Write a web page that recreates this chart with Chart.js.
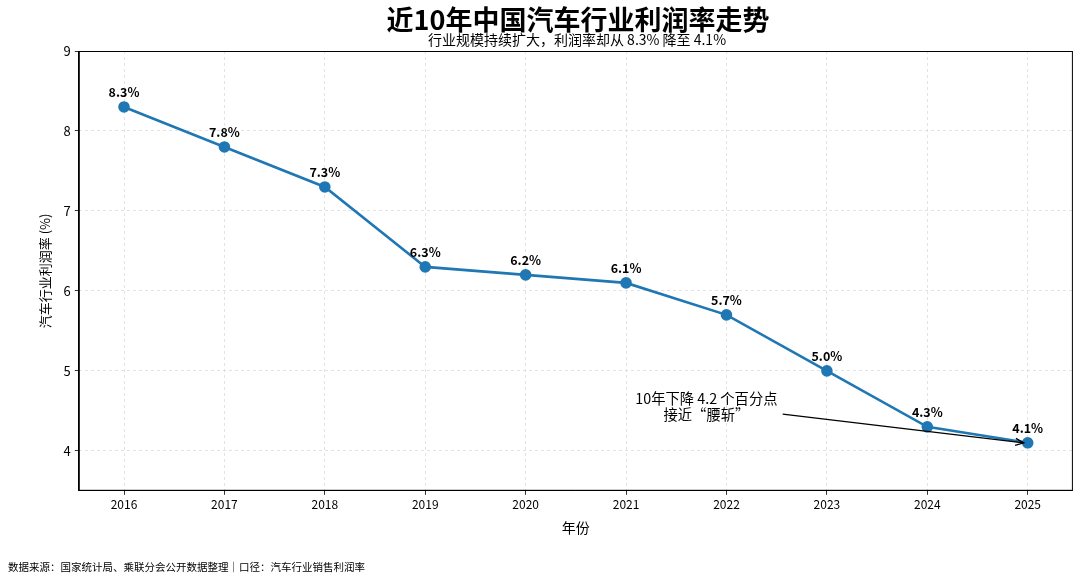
<!DOCTYPE html>
<html>
<head>
<meta charset="utf-8">
<script src="https://cdn.jsdelivr.net/npm/chart.js@4"></script>
<style>
  html, body { margin: 0; padding: 0; background: #fff; }
  #wrap { width: 1080px; height: 580px; position: relative; }
</style>
</head>
<body>
<div id="wrap"><canvas id="c" width="1080" height="580"></canvas></div>
<script>
// 数据
const years = [2016, 2017, 2018, 2019, 2020, 2021, 2022, 2023, 2024, 2025];
const profitRate = [8.3, 7.8, 7.3, 6.3, 6.2, 6.1, 5.7, 5.0, 4.3, 4.1];
const yTicks = [4, 5, 6, 7, 8, 9];

const FONT = '"Noto Sans CJK SC", "Noto Sans", sans-serif';

// 标题、数值标签、注释箭头、边框、脚注
const extras = {
  id: 'extras',
  afterDatasetsDraw(chart) {
    const { ctx, scales: { x, y }, chartArea } = chart;
    ctx.save();
    ctx.strokeStyle = '#000';
    ctx.lineWidth = 1;
    ctx.strokeRect(chartArea.left + 0.5, chartArea.top + 0.5,
      chartArea.right - chartArea.left - 1, chartArea.bottom - chartArea.top - 1);

    ctx.fillStyle = '#000';
    ctx.textAlign = 'center';
    ctx.textBaseline = 'middle';
    ctx.font = 'bold 27px ' + FONT;
    ctx.fillText('近10年中国汽车行业利润率走势', 578, 20);
    ctx.font = '14px ' + FONT;
    ctx.fillText('行业规模持续扩大，利润率却从 8.3% 降至 4.1%', 577, 40);

    ctx.textBaseline = 'alphabetic';
    ctx.font = 'bold 12.5px ' + FONT;
    years.forEach((yr, i) => {
      ctx.fillText(profitRate[i].toFixed(1) + '%', x.getPixelForValue(yr), y.getPixelForValue(profitRate[i]) - 10);
    });

    ctx.font = '14.3px ' + FONT;
    const tx = x.getPixelForValue(2021.8);
    ctx.fillText('10年下降 4.2 个百分点', tx, y.getPixelForValue(4.59));
    ctx.fillText('接近“腰斩”', tx, y.getPixelForValue(4.38));

    const x0 = x.getPixelForValue(2022.56), y0 = y.getPixelForValue(4.46);
    const x1 = x.getPixelForValue(2025) - 4, y1 = y.getPixelForValue(4.1);
    ctx.lineWidth = 1.3;
    ctx.beginPath();
    ctx.moveTo(x0, y0);
    ctx.lineTo(x1, y1);
    ctx.stroke();
    const ang = Math.atan2(y1 - y0, x1 - x0);
    ctx.beginPath();
    ctx.moveTo(x1 - 9 * Math.cos(ang - 0.4), y1 - 9 * Math.sin(ang - 0.4));
    ctx.lineTo(x1, y1);
    ctx.lineTo(x1 - 9 * Math.cos(ang + 0.4), y1 - 9 * Math.sin(ang + 0.4));
    ctx.stroke();

    ctx.font = '10.5px ' + FONT;
    ctx.textAlign = 'left';
    ctx.fillText('数据来源：国家统计局、乘联分会公开数据整理｜口径：汽车行业销售利润率', 8, 571);
    ctx.restore();
  }
};

new Chart(document.getElementById('c').getContext('2d'), {
  type: 'line',
  data: {
    datasets: [{
      data: years.map((yr, i) => ({ x: yr, y: profitRate[i] })),
      borderColor: '#1f77b4',
      backgroundColor: '#1f77b4',
      borderWidth: 2.6,
      pointRadius: 4.5,
      pointHoverRadius: 4.5,
      tension: 0
    }]
  },
  options: {
    responsive: false,
    animation: false,
    layout: { padding: { left: 33, right: 7, top: 51, bottom: 40 } },
    plugins: {
      legend: { display: false },
      tooltip: { enabled: false }
    },
    scales: {
      x: {
        type: 'linear',
        min: 2015.55,
        max: 2025.45,
        afterBuildTicks(axis) { axis.ticks = years.map(v => ({ value: v })); },
        ticks: { color: '#000', font: { family: FONT, size: 12 }, callback: v => String(v), padding: 2, maxRotation: 0 },
        grid: { color: '#dcdcdc', lineWidth: 0.8, tickColor: '#000', tickLength: 4 },
        border: { display: true, color: '#000', dash: [3, 3] },
        title: { display: true, text: '年份', color: '#000', font: { family: FONT, size: 14 }, padding: { top: 6 } }
      },
      y: {
        min: 3.5,
        max: 9,
        afterBuildTicks(axis) { axis.ticks = yTicks.map(v => ({ value: v })); },
        ticks: { color: '#000', font: { family: FONT, size: 13 }, padding: 4 },
        grid: { color: '#dcdcdc', lineWidth: 0.8, tickColor: '#000', tickLength: 4 },
        border: { display: true, color: '#000', dash: [3, 3] },
        title: { display: true, text: '汽车行业利润率 (%)', color: '#000', font: { family: FONT, size: 13 }, padding: { bottom: 7 } }
      }
    }
  },
  plugins: [extras]
});
</script>
</body>
</html>
